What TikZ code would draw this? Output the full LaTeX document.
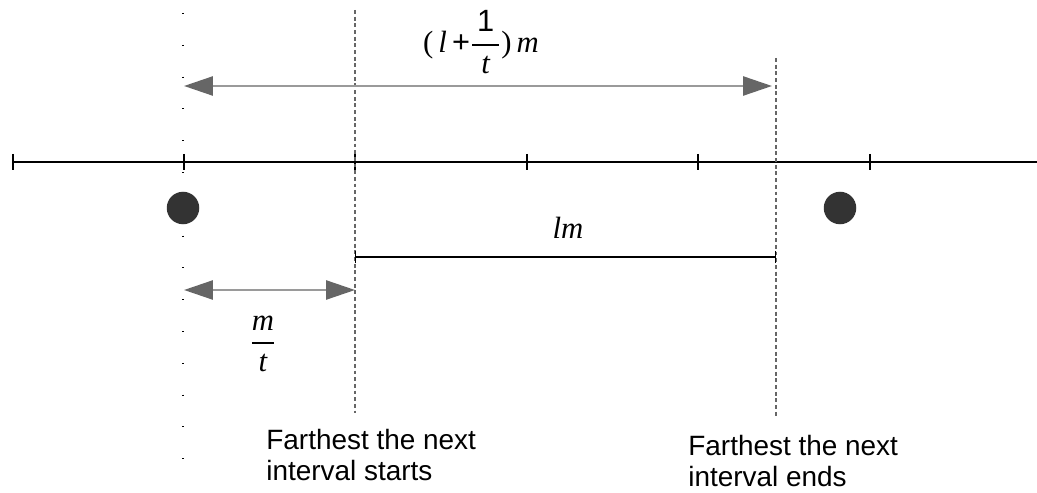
\documentclass[tikz,border=0pt]{standalone}
\usepackage{amsmath}
\usepackage{fontspec}
\setmainfont{Liberation Sans}
\newfontfamily\varfont{Liberation Serif}
\usetikzlibrary{arrows.meta}
\definecolor{arrow-line}{HTML}{9A9A9A}
\definecolor{arrow-head}{HTML}{666666}
\definecolor{dot-fill}{HTML}{333333}
\newcommand{\ivar}[1]{\text{\varfont\itshape #1}}
\newcommand{\iup}[1]{\text{\varfont #1}}
\newcommand{\isans}[1]{\text{\rmfamily #1}}
\newcommand{\ifrac}[2]{\genfrac{}{}{1.1pt}{0}{#1}{#2}}

\begin{document}
\begin{tikzpicture}[x=0.02cm, y=-0.02cm,
    axis/.style={line width=0.6pt, black},
    tick/.style={line width=0.9pt, black},
    gap/.style={draw=arrow-line, line width=1.3pt,
      {Triangle[length=16.4pt, width=10.8pt, fill=arrow-head, color=arrow-head]}-{Triangle[length=16.4pt, width=10.8pt, fill=arrow-head, color=arrow-head]}},
    span/.style={line width=0.6pt, {Bar[width=7pt]}-{Bar[width=7pt]}},
    guide/.style={draw=arrow-head, line width=0.6pt, dash pattern=on 2.2pt off 1.6pt},
    sparse/.style={line width=0.6pt, dash pattern=on 0.6pt off 17.5pt},
    point/.style={circle, fill=dot-fill, inner sep=0pt, minimum size=18.5pt},
    math/.style={font=\fontsize{17.5}{20}\selectfont},
    caption/.style={font=\fontsize{15.9}{17.6}\selectfont, align=left, anchor=north west, inner sep=0pt}]
    % Picture in pixel units: x to the right, y downwards, 1037 x 493.
    %   number line y=162, ticks every 171.5 from x=13
    %   sparse dotted line x=183, dashed guides x=355 and x=776
    %   gaps: (l+1/t)m at y=86, m/t at y=290; lm span at y=257
    \useasboundingbox (0,0) rectangle (1037,493);

    % number line and its ticks
    \coordinate (lineL) at (13,162);
    \coordinate (lineR) at (1037,162);
    \draw[axis] (lineL) -- (lineR);
    \foreach \tx in {13,184,355,527,698,870}
      \draw[tick] (\tx,154) -- (\tx,170);

    % current interval start (sparse dots) and the two guides
    \coordinate (startT) at (183,13);
    \coordinate (startB) at (183,462);
    \draw[sparse] (startT) -- (startB);
    \coordinate (nextT) at (355,10);
    \coordinate (nextB) at (355,413);
    \draw[guide] (nextT) -- (nextB);
    \coordinate (endT) at (776,58);
    \coordinate (endB) at (776,418);
    \draw[guide] (endT) -- (endB);

    % points on either side
    \node[point] (leftPt) at (183,208) {};
    \node[point] (rightPt) at (840,208) {};

    % (l+1/t)m gap
    \coordinate (topL) at (184,86);
    \coordinate (topR) at (772,86);
    \draw[gap] (topL) -- (topR);
    \node[math] (topLbl) at (481,42)
      {$\displaystyle\iup{(}\,\ivar{l}\,\isans{+}\ifrac{\,\isans{1}\,}{\ivar{t}}\iup{)}\,\ivar{m}$};

    % lm span
    \coordinate (lmL) at (355,257);
    \coordinate (lmR) at (776,257);
    \draw[span] (lmL) -- (lmR);
    \node[math] (lmLbl) at (568,228) {$\ivar{lm}$};

    % m/t gap
    \coordinate (mtL) at (184,290);
    \coordinate (mtR) at (355,290);
    \draw[gap] (mtL) -- (mtR);
    \node[math] (mtLbl) at (263,344) {$\displaystyle\ifrac{\ivar{m}}{\ivar{t}}$};

    % captions
    \node[caption] (startCap) at (266,429) {Farthest the next\\interval starts};
    \node[caption] (endCap) at (688,435) {Farthest the next\\interval ends};
  \end{tikzpicture}
\end{document}
